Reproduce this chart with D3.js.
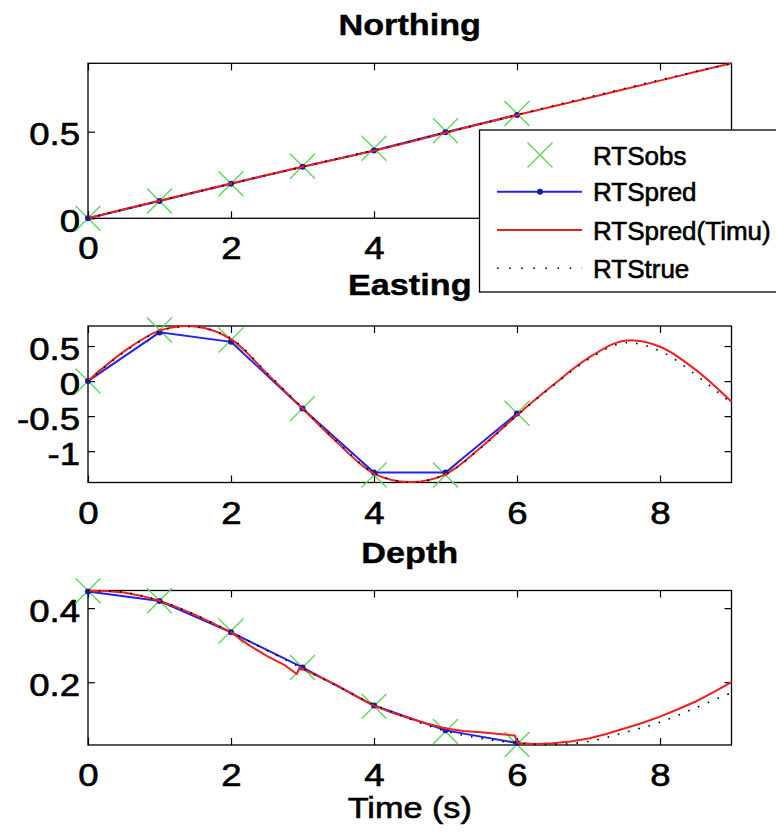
<!DOCTYPE html>
<html>
<head>
<meta charset="utf-8">
<script src="https://cdn.jsdelivr.net/npm/d3@7"></script>
<style>
  html, body { margin: 0; padding: 0; background: #fff; }
  svg { display: block; font-family: "Liberation Sans", Arial, Helvetica, sans-serif; }
  .heavy { stroke: #000; stroke-width: 0.6px; }
  .heavy-b { stroke: #000; stroke-width: 0.4px; }
</style>
</head>
<body>
<svg id="chart" width="776" height="833"></svg>
<script>
// ---- data -------------------------------------------------------------
// sample times (s) of the RTS observations / predictions
const tObs = [0, 1, 2, 3, 4, 5, 6];
// time grid of the continuous tracks
const tTrack = [0, 0.5, 1, 1.5, 2, 2.5, 3, 3.5, 4, 4.5, 5, 5.5, 6, 6.5, 7, 7.5, 8, 8.5, 9];

// Northing
const northObs  = [0, 0.10, 0.20, 0.30, 0.405, 0.505, 0.605];
const northPred = [0, 0.10, 0.20, 0.297, 0.392, 0.497, 0.597];
const northTimu = [0, 0.052, 0.101, 0.152, 0.201, 0.25, 0.298, 0.344, 0.39, 0.44, 0.494, 0.546, 0.597, 0.646, 0.695, 0.745, 0.795, 0.846, 0.895];
const northTrue = [0, 0.05, 0.10, 0.15, 0.20, 0.249, 0.298, 0.345, 0.393, 0.443, 0.494, 0.545, 0.597, 0.649, 0.70, 0.75, 0.799, 0.848, 0.893];

// Easting
const eastObs  = [0, 0.73, 0.585, -0.39, -1.34, -1.34, -0.46];
const eastPred = [0, 0.695, 0.56, -0.39, -1.305, -1.305, -0.462];
const eastTimu = [0, 0.42, 0.72, 0.78, 0.60, 0.11, -0.39, -0.89, -1.32, -1.44, -1.33, -0.94, -0.486, -0.06, 0.33, 0.575, 0.49, 0.16, -0.295];
const eastTrue = [0, 0.41, 0.71, 0.775, 0.61, 0.12, -0.38, -0.88, -1.31, -1.445, -1.33, -0.95, -0.49, -0.07, 0.31, 0.545, 0.43, 0.09, -0.32];

// Depth
const depthObs  = [0.447, 0.42, 0.338, 0.24, 0.135, 0.067, 0.032];
const depthPred = [0.445, 0.419, 0.335, 0.24, 0.137, 0.07, 0.036];
const tDepthTimu = [0, 0.25, 0.5, 0.75, 1, 1.25, 1.5, 1.75, 2, 2.25, 2.5, 2.75, 2.92, 2.96, 3.25, 3.5, 3.75, 4, 4.25, 4.5, 4.75, 5, 5.25, 5.5, 5.75, 5.97, 6.01, 6.25, 6.5, 6.75, 7, 7.25, 7.5, 7.75, 8, 8.25, 8.5, 8.75, 9];
const depthTimu  = [0.447, 0.446, 0.442, 0.433, 0.42, 0.402, 0.382, 0.359, 0.335, 0.30, 0.271, 0.246, 0.222, 0.24, 0.213, 0.19, 0.162, 0.136, 0.118, 0.102, 0.088, 0.075, 0.068, 0.065, 0.06, 0.056, 0.036, 0.033, 0.035, 0.04, 0.048, 0.06, 0.075, 0.09, 0.107, 0.127, 0.148, 0.173, 0.2];
const depthTrue  = [0.447, 0.443, 0.42, 0.382, 0.336, 0.286, 0.237, 0.188, 0.14, 0.101, 0.068, 0.048, 0.036, 0.032, 0.04, 0.064, 0.092, 0.131, 0.172];

// axis ticks
const xTickValues = [0, 2, 4, 6, 8];
const northTicks = [0, 0.5];
const eastTicks  = [-1, -0.5, 0, 0.5];
const depthTicks = [0.2, 0.4];

const titles = ["Northing", "Easting", "Depth"];
const legendLabels = ["RTSobs", "RTSpred", "RTSpred(Timu)", "RTStrue"];
const xLabel = "Time (s)";

// ---- styling ----------------------------------------------------------
const C = { obs: "#5cd65c", pred: "#2424e8", dot: "#1a1aa8", timu: "#ee2020", truth: "#000" };
const GLYPH_SX = 1.18;   // glyphs are drawn slightly widened
const TICK_FS = 31, TITLE_FS = 29, LEG_FS = 26;

// legend box (drawn over the first panel)
const LEG = { x: 479.5, y: 130, w: 310, h: 162 };

const svg = d3.select("#chart");
const x = d3.scaleLinear().domain([0, 9]).range([88, 731.5]);

const panels = [
  { title: titles[0], dom: [0, 0.895],        ticks: northTicks, top: 63.3,  bottom: 218.3, titleY: 35,
    obs: northObs, pred: northPred, timuT: tTrack, timu: northTimu, truth: northTrue, curve: d3.curveLinear },
  { title: titles[1], dom: [-1.447, 0.786],   ticks: eastTicks,  top: 326,   bottom: 482.5, titleY: 295,
    obs: eastObs, pred: eastPred, timuT: tTrack, timu: eastTimu, truth: eastTrue, curve: d3.curveCatmullRom },
  { title: titles[2], dom: [0.0305, 0.4476],  ticks: depthTicks, top: 590.5, bottom: 745,   titleY: 563,
    obs: depthObs, pred: depthPred, timuT: tDepthTimu, timu: depthTimu, truth: depthTrue, curve: d3.curveLinear, truthCurve: d3.curveCatmullRom }
];

function stext(parent, px, py, str, o) {
  return parent.append("text")
    .attr("class", o.cls || null)
    .attr("transform", `translate(${px},${py}) scale(${o.sx || 1},1)`)
    .attr("text-anchor", o.anchor || "start")
    .attr("font-size", o.size)
    .attr("font-weight", o.weight || "normal")
    .attr("fill", "#000")
    .text(str);
}

function crossPath(s) { return `M${-s},${-s}L${s},${s}M${-s},${s}L${s},${-s}`; }

function styleAxis(sel, withText) {
  sel.attr("font-size", null).attr("font-family", null);
  sel.select(".domain").remove();
  sel.selectAll(".tick line").attr("stroke", "#000").attr("stroke-width", 1.2);
  if (withText) {
    sel.selectAll(".tick text")
      .attr("class", "heavy")
      .attr("fill", "#000")
      .attr("font-size", TICK_FS);
  }
}

panels.forEach((p, pi) => {
  const g = svg.append("g");
  const y = d3.scaleLinear().domain(p.dom).range([p.bottom, p.top]);

  // tick labels that would sit under the legend box are left out
  const xLabelled = xTickValues.filter(v => !(pi === 0 && x(v) + 12 > LEG.x));

  // inward ticks on all four sides
  const ax = g.append("g").attr("transform", `translate(0,${p.bottom})`)
    .call(d3.axisBottom(x).tickValues(xTickValues).tickSizeInner(-7).tickSizeOuter(0).tickPadding(19)
      .tickFormat(d => xLabelled.includes(d) ? String(d) : ""));
  styleAxis(ax, true);
  ax.selectAll(".tick text").attr("transform", `scale(${GLYPH_SX},1)`);

  const axT = g.append("g").attr("transform", `translate(0,${p.top})`)
    .call(d3.axisTop(x).tickValues(xTickValues).tickSizeInner(-7).tickSizeOuter(0).tickFormat(""));
  styleAxis(axT, false);

  const ay = g.append("g").attr("transform", `translate(${x(0)},0)`)
    .call(d3.axisLeft(y).tickValues(p.ticks).tickSizeInner(-7).tickSizeOuter(0).tickPadding(8).tickFormat(d => String(d)));
  styleAxis(ay, true);
  ay.selectAll(".tick text")
    .attr("x", -8 / GLYPH_SX)
    .attr("dy", "0.42em")
    .attr("transform", `scale(${GLYPH_SX},1)`);

  const ayR = g.append("g").attr("transform", `translate(${x(9)},0)`)
    .call(d3.axisRight(y).tickValues(p.ticks).tickSizeInner(-7).tickSizeOuter(0).tickFormat(""));
  styleAxis(ayR, false);

  // plot box
  g.append("rect")
    .attr("x", x(0)).attr("y", p.top)
    .attr("width", x(9) - x(0)).attr("height", p.bottom - p.top)
    .attr("fill", "none").attr("stroke", "#000").attr("stroke-width", 1.3);

  // title
  stext(g, (x(0) + x(9)) / 2, p.titleY, p.title, { size: TITLE_FS, weight: "bold", anchor: "middle", sx: GLYPH_SX, cls: "heavy-b" });

  // observations (green crosses)
  g.append("g").selectAll("path")
    .data(tObs.map((t, i) => [t, p.obs[i]]))
    .join("path")
    .attr("d", crossPath(12.5))
    .attr("transform", d => `translate(${x(d[0])},${y(d[1])})`)
    .attr("fill", "none").attr("stroke", C.obs).attr("stroke-width", 1.4);

  // RTS predictions (blue line with dots)
  const lin = d3.line().x(d => x(d[0])).y(d => y(d[1]));
  const predPts = tObs.map((t, i) => [t, p.pred[i]]);
  g.append("path").attr("d", lin(predPts))
    .attr("fill", "none").attr("stroke", C.pred).attr("stroke-width", 2);
  g.append("g").selectAll("circle").data(predPts).join("circle")
    .attr("cx", d => x(d[0])).attr("cy", d => y(d[1])).attr("r", 3)
    .attr("fill", C.dot);

  // RTS prediction with IMU (red)
  const timuPts = p.timuT.map((t, i) => [t, p.timu[i]]);
  g.append("path").attr("d", d3.line().curve(p.curve).x(d => x(d[0])).y(d => y(d[1]))(timuPts))
    .attr("fill", "none").attr("stroke", C.timu).attr("stroke-width", 2);

  // true trajectory (dotted black)
  const truePts = tTrack.map((t, i) => [t, p.truth[i]]);
  g.append("path").attr("d", d3.line().curve(p.truthCurve || p.curve).x(d => x(d[0])).y(d => y(d[1]))(truePts))
    .attr("fill", "none").attr("stroke", C.truth).attr("stroke-width", 1.6)
    .attr("stroke-dasharray", "1.6 9");
});

// x-axis label
stext(svg, (x(0) + x(9)) / 2, 818, xLabel, { size: TITLE_FS, anchor: "middle", sx: GLYPH_SX, cls: "heavy" });

// ---- legend -----------------------------------------------------------
const leg = svg.append("g");
leg.append("rect").attr("x", LEG.x).attr("y", LEG.y).attr("width", LEG.w).attr("height", LEG.h)
  .attr("fill", "#fff").attr("stroke", "#000").attr("stroke-width", 1.3);
const legY = [155, 191.7, 230, 268.3];
const lx0 = 497, lx1 = 582, lxm = 540;
// RTSobs
leg.append("path").attr("d", crossPath(12.5)).attr("transform", `translate(${lxm},${legY[0]})`)
  .attr("fill", "none").attr("stroke", C.obs).attr("stroke-width", 1.4);
// RTSpred
leg.append("line").attr("x1", lx0).attr("x2", lx1).attr("y1", legY[1]).attr("y2", legY[1])
  .attr("stroke", C.pred).attr("stroke-width", 2);
leg.append("circle").attr("cx", lxm).attr("cy", legY[1]).attr("r", 3).attr("fill", C.dot);
// RTSpred(Timu)
leg.append("line").attr("x1", lx0).attr("x2", lx1).attr("y1", legY[2]).attr("y2", legY[2])
  .attr("stroke", C.timu).attr("stroke-width", 2);
// RTStrue
leg.append("line").attr("x1", lx0).attr("x2", lx1).attr("y1", legY[3]).attr("y2", legY[3])
  .attr("stroke", C.truth).attr("stroke-width", 1.6).attr("stroke-dasharray", "1.6 10.5");
legendLabels.forEach((s, i) => stext(leg, 593, legY[i] + 9.5, s, { size: LEG_FS, cls: "heavy" }));
</script>
</body>
</html>
